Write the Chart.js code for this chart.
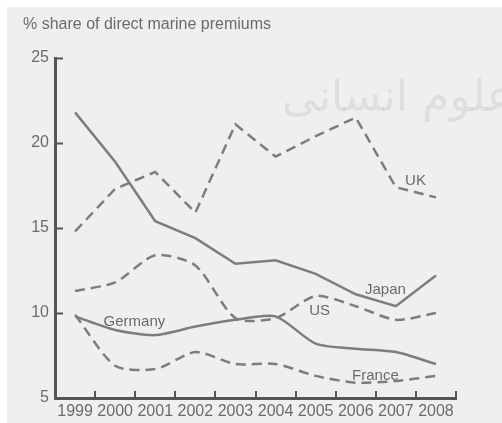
<!DOCTYPE html>
<html>
<head>
<meta charset="utf-8">
<script src="https://cdn.jsdelivr.net/npm/chart.js@4.4.1/dist/chart.umd.min.js"></script>
<style>
  html, body { margin: 0; padding: 0; background: #fff; }
  #wrap { width: 502px; height: 423px; }
</style>
</head>
<body>
<div id="wrap"><canvas id="chart" width="502" height="423"></canvas></div>
<script>
// data
const years   = ['1999','2000','2001','2002','2003','2004','2005','2006','2007','2008'];
const uk      = [14.8, 17.3, 18.3, 15.9, 21.1, 19.2, 20.4, 21.5, 17.4, 16.8];
const japan   = [21.8, 18.9, 15.4, 14.4, 12.9, 13.1, 12.3, 11.1, 10.4, 12.2];
const us      = [11.3, 11.8, 13.4, 12.8, 9.7, 9.7, 11.0, 10.4, 9.6, 10.0];
const germany = [9.8, 9.0, 8.7, 9.2, 9.6, 9.8, 8.2, 7.9, 7.7, 7.0];
const france  = [9.9, 6.9, 6.7, 7.7, 7.0, 7.0, 6.3, 5.9, 6.0, 6.3];
const yTicks  = [5, 10, 15, 20, 25];

const lineGrey = '#7d7d7d';
const axisGrey = '#555';
const textGrey = '#6a6a6a';
const dash = [10, 6];

// where the series names sit (category index, value)
const seriesLabels = [
  { text: 'UK',      at: [8.49, 17.75] },
  { text: 'Japan',   at: [7.74, 11.35] },
  { text: 'US',      at: [6.10, 10.12] },
  { text: 'Germany', at: [1.48, 9.47] },
  { text: 'France',  at: [7.49, 6.30] }
];

// grey panel + faint watermark behind everything
const panelBg = {
  id: 'panelBg',
  beforeDraw(chart) {
    const ctx = chart.ctx;
    ctx.save();
    ctx.fillStyle = '#fff';
    ctx.fillRect(0, 0, chart.width, chart.height);
    ctx.fillStyle = '#efefef';
    ctx.fillRect(7, 7, chart.width - 7, chart.height - 7);
    ctx.fillStyle = 'rgba(0,0,0,0.07)';
    ctx.font = '44px "DejaVu Sans"';
    ctx.textBaseline = 'middle';
    ctx.textAlign = 'left';
    ctx.fillText('جامع علوم انسانی', 282, 100);
    ctx.restore();
  }
};

// inward tick marks + series names
const extras = {
  id: 'extras',
  afterDraw(chart) {
    const { ctx, chartArea: a, scales: { x, y } } = chart;
    ctx.save();
    ctx.strokeStyle = axisGrey;
    ctx.lineWidth = 2;
    yTicks.forEach(v => {
      const py = Math.round(y.getPixelForValue(v)) + 0.5;
      ctx.beginPath(); ctx.moveTo(a.left, py); ctx.lineTo(a.left + 8, py); ctx.stroke();
    });
    const step = x.getPixelForValue(1) - x.getPixelForValue(0);
    for (let i = 0; i < years.length; i++) {
      const px = Math.round(x.getPixelForValue(i) + step / 2);
      ctx.beginPath(); ctx.moveTo(px, a.bottom); ctx.lineTo(px, a.bottom - 7); ctx.stroke();
    }
    ctx.fillStyle = textGrey;
    ctx.font = '15px "Liberation Sans"';
    ctx.textAlign = 'center';
    ctx.textBaseline = 'middle';
    seriesLabels.forEach(l => {
      const px = x.getPixelForValue(0) + l.at[0] * step;
      ctx.fillText(l.text, px, y.getPixelForValue(l.at[1]));
    });
    ctx.restore();
  }
};

const mk = (label, data, dashed, tension) => ({
  label, data,
  borderColor: lineGrey,
  borderWidth: 2.5,
  borderDash: dashed ? dash : [],
  pointRadius: 0,
  tension: tension,
  fill: false
});

new Chart(document.getElementById('chart'), {
  type: 'line',
  data: {
    labels: years,
    datasets: [
      mk('UK', uk, true, 0),
      mk('Japan', japan, false, 0),
      mk('US', us, true, 0.25),
      mk('Germany', germany, false, 0.25),
      mk('France', france, true, 0.25)
    ]
  },
  options: {
    responsive: false,
    animation: false,
    layout: { padding: { left: 23, top: 8, right: 46, bottom: 0 } },
    plugins: {
      legend: { display: false },
      tooltip: { enabled: false },
      title: {
        display: true,
        text: '% share of direct marine premiums',
        align: 'start',
        color: textGrey,
        font: { family: 'Liberation Sans', size: 16, weight: 'normal' },
        padding: { top: 7.4, bottom: 23.4 }
      }
    },
    scales: {
      x: {
        type: 'category',
        offset: true,
        grid: { display: false, drawTicks: false, offset: true },
        border: { display: true, color: axisGrey, width: 3 },
        ticks: { color: textGrey, font: { family: 'Liberation Sans', size: 16 }, padding: 4, maxRotation: 0, autoSkip: false },
        afterFit: s => { s.height = 25; }
      },
      y: {
        min: 5, max: 25,
        grid: { display: false, drawTicks: false },
        border: { display: true, color: axisGrey, width: 3 },
        ticks: { stepSize: 5, color: textGrey, font: { family: 'Liberation Sans', size: 16 }, padding: 6 },
        afterFit: s => { s.width = 32; }
      }
    }
  },
  plugins: [panelBg, extras]
});
</script>
</body>
</html>
